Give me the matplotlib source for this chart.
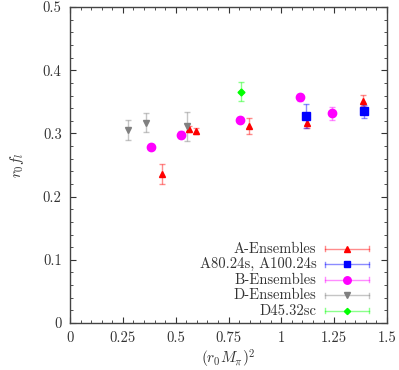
import matplotlib
matplotlib.use("Agg")
import matplotlib.pyplot as plt
from matplotlib.ticker import MultipleLocator
from matplotlib.lines import Line2D

plt.rcParams["font.family"] = ["cmr10", "DejaVu Serif"]
plt.rcParams["mathtext.fontset"] = "cm"
plt.rcParams["axes.formatter.use_mathtext"] = True

# Daten (r0 M_pi)^2, r0 f_l, Fehler
a_x   = [0.434, 0.563, 0.595, 0.846, 1.120, 1.385]
a_y   = [0.236, 0.307, 0.304, 0.312, 0.317, 0.352]
a_err = [0.016, 0.005, 0.005, 0.0125, 0.008, 0.009]

a2_x   = [1.117, 1.390]
a2_y   = [0.328, 0.335]
a2_err = [0.019, 0.010]

b_x   = [0.382, 0.524, 0.806, 1.087, 1.240]
b_y   = [0.279, 0.298, 0.322, 0.357, 0.332]
b_err = [0.004, 0.006, 0.004, 0.005, 0.010]

d_x   = [0.276, 0.358, 0.554]
d_y   = [0.306, 0.317, 0.311]
d_err = [0.016, 0.0155, 0.023]

g_x   = [0.811]
g_y   = [0.366]
g_err = [0.015]

xticks = [0, 0.25, 0.5, 0.75, 1.0, 1.25, 1.5]
xtick_labels = ["0", "0.25", "0.5", "0.75", "1", "1.25", "1.5"]
yticks = [0, 0.1, 0.2, 0.3, 0.4, 0.5]
ytick_labels = ["0", "0.1", "0.2", "0.3", "0.4", "0.5"]

series = [
    ("A-Ensembles",         a_x,  a_y,  a_err,  "#ff0000", "^", 5.0),
    ("A80.24s, A100.24s",   a2_x, a2_y, a2_err, "#0000ff", "s", 5.5),
    ("B-Ensembles",         b_x,  b_y,  b_err,  "#ff00ff", "o", 6.0),
    ("D-Ensembles",         d_x,  d_y,  d_err,  "#808080", "v", 5.0),
    ("D45.32sc",            g_x,  g_y,  g_err,  "#00ff00", "D", 3.5),
]

fig = plt.figure(figsize=(3.99, 3.70), dpi=100)
ax = fig.add_axes([0.1754, 0.127, 0.7946, 0.854])

for name, x, y, e, col, m, ms in series:
    ax.errorbar(x, y, yerr=e, fmt="none", ecolor=col, alpha=0.45,
                elinewidth=1.0, capsize=2.5, capthick=1.0)
    ax.plot(x, y, m, color=col, markersize=ms, linestyle="none", zorder=3)

ax.set_xlim(0, 1.5)
ax.set_ylim(0, 0.5)
ax.set_xticks(xticks)
ax.set_xticklabels(xtick_labels)
ax.set_yticks(yticks)
ax.set_yticklabels(ytick_labels)
ax.xaxis.set_minor_locator(MultipleLocator(0.05))
ax.yaxis.set_minor_locator(MultipleLocator(0.02))
ax.tick_params(which="both", direction="in", top=True, right=True,
               labelsize=10.5, colors="#333333", pad=6)
ax.tick_params(which="major", length=4)
ax.tick_params(which="minor", length=2)
for s in ax.spines.values():
    s.set_color("#444444")
    s.set_linewidth(1.0)

ax.set_xlabel(r"$(r_0 M_\pi)^2$", fontsize=11, color="#333333", labelpad=2)
ax.set_ylabel(r"$r_0 f_l$", fontsize=11, color="#333333", labelpad=12)

# Legende im gnuplot-Stil
y0 = 0.235
dy = 0.049
for i, (name, x, y, e, col, m, ms) in enumerate(series):
    yy = y0 - i * dy
    ax.text(0.777, yy, name, transform=ax.transAxes, ha="right", va="center",
            fontsize=10.5, color="#333333")
    ax.add_line(Line2D([0.803, 0.943], [yy, yy], transform=ax.transAxes,
                       color=col, alpha=0.45, lw=1.0))
    for xx in (0.803, 0.943):
        ax.add_line(Line2D([xx, xx], [yy - 0.008, yy + 0.008], transform=ax.transAxes,
                           color=col, alpha=0.45, lw=1.0))
    ax.add_line(Line2D([0.873], [yy], transform=ax.transAxes, marker=m,
                       color=col, markersize=ms * 0.9, linestyle="none"))

fig.savefig("out.png", dpi=100)
